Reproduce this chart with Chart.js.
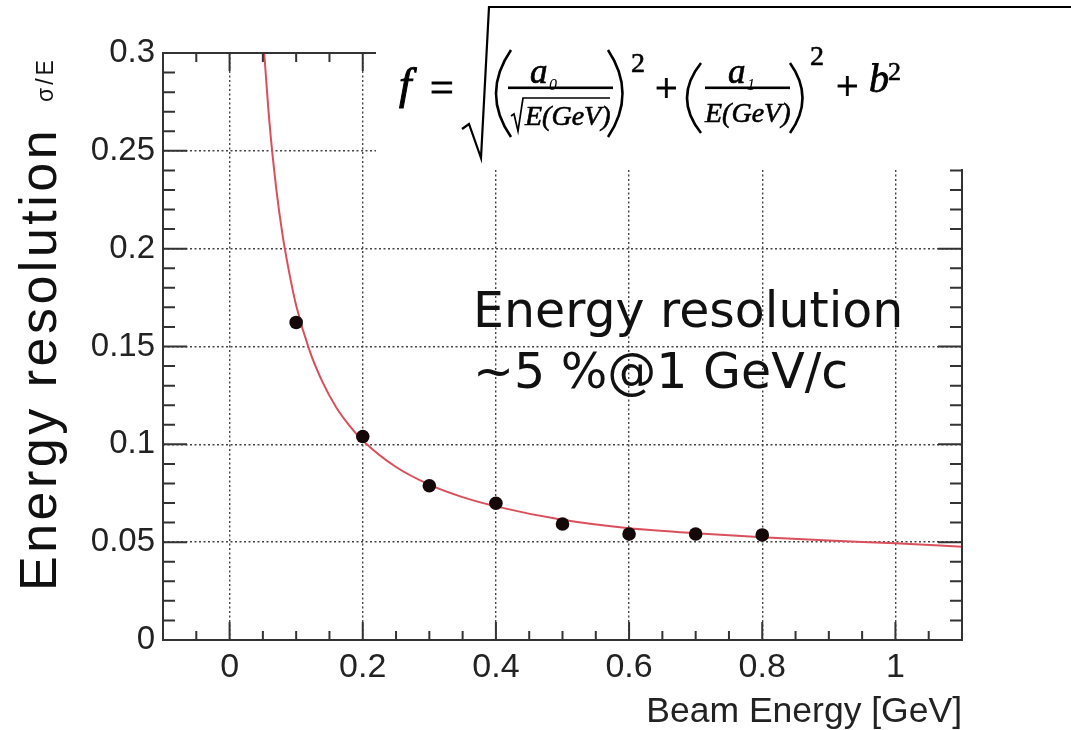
<!DOCTYPE html>
<html><head><meta charset="utf-8">
<script src="https://cdn.jsdelivr.net/npm/chart.js@4.4.1/dist/chart.umd.min.js"></script>
<style>html,body{margin:0;padding:0;background:#fff;}#wrap{width:1071px;height:730px;position:relative}</style>
</head><body><div id="wrap"><canvas id="c" width="1071" height="730"></canvas></div>
<script>
// ---- data ----
const beamEnergy = [0.1, 0.2, 0.3, 0.4, 0.5, 0.6, 0.7, 0.8];
const resolution = [0.1623, 0.1040, 0.0788, 0.0699, 0.0593, 0.0542, 0.0542, 0.0537];
const fitEnergy = [0.052, 0.06, 0.07, 0.08, 0.09, 0.1, 0.12, 0.14, 0.16, 0.18, 0.2, 0.25, 0.3, 0.35, 0.4, 0.5, 0.6, 0.7, 0.8, 0.9, 1.0, 1.1];
const fitResolution = [0.300, 0.264, 0.231, 0.206, 0.187, 0.171, 0.148, 0.1315, 0.119, 0.1096, 0.102, 0.0884, 0.0794, 0.073, 0.0683, 0.0614, 0.0571, 0.0546, 0.0525, 0.0508, 0.0494, 0.0477];
const xTickValues = [0, 0.2, 0.4, 0.6, 0.8, 1];
const xTickLabels = ['0', '0.2', '0.4', '0.6', '0.8', '1'];
const yTickValues = [0, 0.05, 0.1, 0.15, 0.2, 0.25, 0.3];
const yTickLabels = ['0', '0.05', '0.1', '0.15', '0.2', '0.25', '0.3'];
const xMinorStep = 0.05;
const yMinorStep = 0.01;

const AXIS = '#333';
const TXT = '#222';

function paren(ctx, xEnd, xCtrl, top, bottom) {
  ctx.beginPath();
  ctx.moveTo(xEnd, top);
  ctx.quadraticCurveTo(xCtrl, (top + bottom) / 2, xEnd, bottom);
  ctx.stroke();
}
function heavyText(ctx, t, x, y, w) {
  ctx.fillText(t, x, y);
  ctx.lineWidth = w || 0.7;
  ctx.strokeText(t, x, y);
}

const deco = {
  id: 'deco',
  afterDraw(chart) {
    const ctx = chart.ctx;
    const a = chart.chartArea;
    const xs = chart.scales.x, ys = chart.scales.y;
    ctx.save();
    // frame
    ctx.strokeStyle = AXIS; ctx.lineWidth = 2;
    ctx.beginPath();
    ctx.moveTo(a.left, a.top); ctx.lineTo(a.right, a.top); ctx.lineTo(a.right, a.bottom);
    ctx.lineTo(a.left, a.bottom); ctx.closePath(); ctx.stroke();
    // ticks (inward)
    const isMajor = (v, arr) => arr.some(t => Math.abs(t - v) < 1e-9);
    for (let i = Math.ceil(xs.min / xMinorStep - 1e-9); i * xMinorStep <= xs.max + 1e-9; i++) {
      const v = +(i * xMinorStep).toFixed(4);
      const px = xs.getPixelForValue(v);
      const L = isMajor(v, xTickValues) ? 18 : 9;
      ctx.beginPath();
      ctx.moveTo(px, a.bottom); ctx.lineTo(px, a.bottom - L);
      ctx.moveTo(px, a.top); ctx.lineTo(px, a.top + L);
      ctx.stroke();
    }
    for (let i = Math.ceil(ys.min / yMinorStep - 1e-9); i * yMinorStep <= ys.max + 1e-9; i++) {
      const v = +(i * yMinorStep).toFixed(4);
      const py = ys.getPixelForValue(v);
      const L = isMajor(v, yTickValues) ? 24 : 12;
      ctx.beginPath();
      ctx.moveTo(a.left, py); ctx.lineTo(a.left + L, py);
      ctx.moveTo(a.right, py); ctx.lineTo(a.right - L, py);
      ctx.stroke();
    }
    // white box behind the formula
    ctx.fillStyle = '#fff';
    ctx.fillRect(376, 0, chart.width - 376, 169);

    // formula
    ctx.fillStyle = '#000'; ctx.strokeStyle = '#000';
    ctx.textBaseline = 'alphabetic'; ctx.textAlign = 'left';
    ctx.font = 'italic 45px "Liberation Serif"';
    heavyText(ctx, 'f', 399, 99, 1);
    ctx.font = '42px "Liberation Serif"';
    heavyText(ctx, '=', 430, 101, 1);
    // big radical
    ctx.lineWidth = 2.2;
    ctx.beginPath();
    ctx.moveTo(462, 129); ctx.lineTo(469, 124); ctx.lineTo(481, 158); ctx.lineTo(489, 7); ctx.lineTo(chart.width, 7);
    ctx.stroke();
    // first term
    ctx.lineWidth = 2.6;
    paren(ctx, 511, 481, 50, 137);
    ctx.font = 'italic 35px "Liberation Serif"';
    heavyText(ctx, 'a', 530, 83);
    ctx.font = 'italic 16px "Liberation Serif"';
    ctx.fillText('0', 549, 90);
    ctx.fillRect(508, 86.5, 105, 2.6);
    ctx.lineWidth = 1.7;
    ctx.beginPath();
    ctx.moveTo(511, 116); ctx.lineTo(514, 114); ctx.lineTo(518, 131); ctx.lineTo(523, 98); ctx.lineTo(610, 98);
    ctx.stroke();
    ctx.font = 'italic 28px "Liberation Serif"';
    heavyText(ctx, 'E(GeV)', 525, 125, 0.6);
    ctx.lineWidth = 2.6;
    paren(ctx, 608, 637, 50, 137);
    ctx.font = '28px "Liberation Serif"';
    heavyText(ctx, '2', 631, 72, 0.6);
    ctx.font = '40px "Liberation Serif"';
    heavyText(ctx, '+', 655, 101, 0.8);
    // second term
    ctx.lineWidth = 2.6;
    paren(ctx, 701, 673, 63, 133);
    ctx.font = 'italic 35px "Liberation Serif"';
    heavyText(ctx, 'a', 728, 83);
    ctx.font = 'italic 16px "Liberation Serif"';
    ctx.fillText('1', 747, 90);
    ctx.fillRect(705, 86.5, 85, 2.6);
    ctx.font = 'italic 28px "Liberation Serif"';
    heavyText(ctx, 'E(GeV)', 705, 122, 0.6);
    ctx.lineWidth = 2.6;
    paren(ctx, 790, 815, 63, 133);
    ctx.font = '28px "Liberation Serif"';
    heavyText(ctx, '2', 810, 65, 0.6);
    ctx.font = '40px "Liberation Serif"';
    heavyText(ctx, '+', 836, 99, 0.8);
    ctx.font = 'italic 40px "Liberation Serif"';
    heavyText(ctx, 'b', 869, 92, 0.8);
    ctx.font = '26px "Liberation Serif"';
    heavyText(ctx, '2', 888, 80, 0.6);

    // annotation in plot
    ctx.fillStyle = '#111';
    ctx.font = '49px "DejaVu Sans"';
    ctx.fillText('Energy resolution', 473, 327);
    ctx.fillText('~5 %@1 GeV/c', 473, 388);

    // y-axis title
    ctx.save();
    ctx.translate(56, 591);
    ctx.rotate(-Math.PI / 2);
    ctx.font = '52px "Liberation Sans"';
    ctx.letterSpacing = '3.5px';
    ctx.fillText('Energy resolution', 0, 0);
    ctx.restore();
    ctx.save();
    ctx.translate(53, 102);
    ctx.rotate(-Math.PI / 2);
    ctx.font = '23px "Liberation Sans"';
    ctx.letterSpacing = '3px';
    ctx.fillText('σ/E', 0, 0);
    ctx.restore();

    ctx.restore();
  }
};

const gridOpts = { color: '#444', lineWidth: 1.4, drawTicks: false };

new Chart(document.getElementById('c'), {
  type: 'scatter',
  data: {
    datasets: [
      {
        label: 'fit',
        data: fitEnergy.map((e, i) => ({ x: e, y: fitResolution[i] })),
        showLine: true,
        borderColor: '#d9505c',
        borderWidth: 2,
        pointRadius: 0,
        cubicInterpolationMode: 'monotone',
        order: 2
      },
      {
        label: 'data',
        data: beamEnergy.map((e, i) => ({ x: e, y: resolution[i] })),
        backgroundColor: '#140808',
        borderWidth: 0,
        pointRadius: 6.8,
        order: 1
      }
    ]
  },
  options: {
    responsive: false,
    animation: false,
    devicePixelRatio: 1,
    layout: { padding: { top: 53, right: 109, left: 0, bottom: 0 } },
    plugins: { legend: { display: false }, tooltip: { enabled: false } },
    scales: {
      x: {
        type: 'linear', min: -0.1, max: 1.1,
        afterBuildTicks: s => { s.ticks = xTickValues.map(v => ({ value: v })); },
        afterFit: s => { s.height = 90; },
        grid: Object.assign({}, gridOpts),
        border: { display: false, dash: [2, 2.5] },
        ticks: {
          autoSkip: false, maxRotation: 0, padding: 7, color: TXT,
          font: { family: '"Liberation Sans", Arial, sans-serif', size: 34 },
          callback: (v) => { const i = xTickValues.findIndex(t => Math.abs(t - v) < 1e-9); return i >= 0 ? xTickLabels[i] : ''; }
        }
      },
      y: {
        type: 'linear', min: 0, max: 0.3,
        afterBuildTicks: s => { s.ticks = yTickValues.map(v => ({ value: v })); },
        afterFit: s => { s.width = 163; },
        grid: Object.assign({}, gridOpts),
        border: { display: false, dash: [2, 2.5] },
        ticks: {
          autoSkip: false, padding: 8, color: TXT,
          font: { family: '"Liberation Sans", Arial, sans-serif', size: 33 },
          callback: (v) => { const i = yTickValues.findIndex(t => Math.abs(t - v) < 1e-9); return i >= 0 ? yTickLabels[i] : ''; }
        }
      }
    }
  },
  plugins: [{
    id: 'xTitle',
    afterDraw(chart) {
      const ctx = chart.ctx, a = chart.chartArea;
      ctx.save();
      ctx.fillStyle = TXT;
      ctx.font = '35.5px "Liberation Sans"';
      ctx.textAlign = 'right';
      ctx.textBaseline = 'alphabetic';
      ctx.fillText('Beam Energy [GeV]', a.right, 722);
      ctx.restore();
    }
  }, deco]
});
</script>
</body></html>
